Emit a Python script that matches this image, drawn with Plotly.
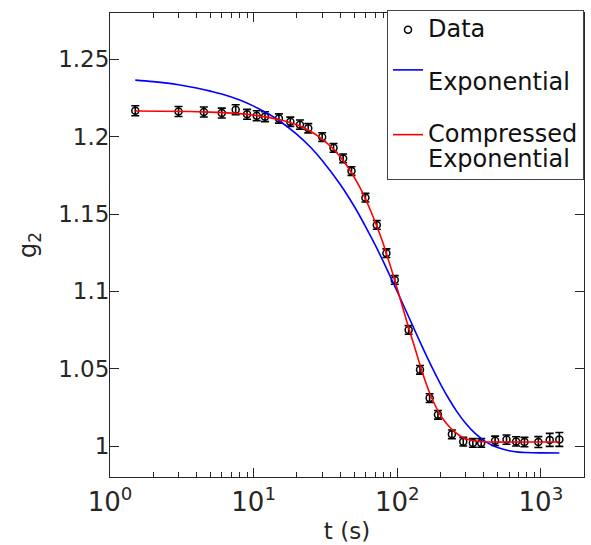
import plotly.graph_objects as go

# ---------------- data ----------------
t_data = [1.5, 3, 4.5, 6, 7.5, 9, 10.5, 12,
          15, 18, 21, 24,
          30, 36, 42, 48,
          60, 72, 84, 96,
          120, 144, 168, 192,
          240, 288, 336, 384,
          480, 576, 672, 768,
          960, 1152, 1344]
g2_data = [1.2168, 1.2163, 1.2160, 1.2153, 1.2175, 1.2145, 1.2136, 1.2130,
           1.2118, 1.2097, 1.2078, 1.2055,
           1.1998, 1.1928, 1.1860, 1.1778,
           1.1606, 1.1430, 1.1247, 1.1074,
           1.0751, 1.0493, 1.0310, 1.0202,
           1.0076, 1.0028, 1.0020, 1.0020,
           1.0034, 1.0042, 1.0030, 1.0026,
           1.0026, 1.0040, 1.0043]
g2_err = [0.0032, 0.0032, 0.0032, 0.0032, 0.0032, 0.0032, 0.0032, 0.0032,
          0.0030, 0.0030, 0.0030, 0.0030,
          0.0028, 0.0028, 0.0028, 0.0028,
          0.0028, 0.0028, 0.0028, 0.0028,
          0.0028, 0.0028, 0.0028, 0.0028,
          0.0028, 0.0028, 0.0028, 0.0028,
          0.0030, 0.0030, 0.0030, 0.0030,
          0.0035, 0.0042, 0.0045]

# exponential fit curve (blue)
t_exp = [1.5, 2, 3, 4, 5, 6, 8, 10, 12, 15, 20, 25, 30, 40, 50, 60, 70, 80,
         90, 100, 120, 140, 160, 180, 200, 230, 260, 300, 350, 400, 450, 500,
         600, 700, 800, 1000, 1344]
g2_exp = [1.2366, 1.2356, 1.2336, 1.2315, 1.2295, 1.2276, 1.2237, 1.2198,
          1.2160, 1.2105, 1.2015, 1.1930, 1.1847, 1.1693, 1.1552, 1.1421,
          1.1302, 1.1192, 1.1091, 1.0999, 1.0836, 1.0698, 1.0582, 1.0484,
          1.0401, 1.0301, 1.0223, 1.0146, 1.0080, 1.0037, 1.0008, 0.9990,
          0.9970, 0.9961, 0.9958, 0.9956, 0.9955]

# compressed exponential fit curve (red)
t_cexp = [1.5, 5, 10, 15, 20, 25, 30, 36, 42, 48, 54, 60, 66, 72, 78, 84,
          90, 96, 104, 112, 120, 132, 144, 156, 168, 180, 192, 210, 232,
          255, 280, 310, 350, 400, 470, 600, 800, 1050, 1344]
g2_cexp = [1.2166, 1.2159, 1.2140, 1.2112, 1.2077, 1.2034, 1.1985, 1.1919,
           1.1846, 1.1767, 1.1685, 1.1598, 1.1510, 1.1421, 1.1335, 1.1245,
           1.1157, 1.1072, 1.0962, 1.0860, 1.0765, 1.0640, 1.0525, 1.0425,
           1.0343, 1.0280, 1.0228, 1.0170, 1.0122, 1.0087, 1.0060, 1.0043,
           1.0033, 1.0028, 1.0026, 1.0026, 1.0026, 1.0026, 1.0026]

x_tickvals = [1, 10, 100, 1000]
x_ticktext = ["10<sup>0</sup>", "10<sup>1</sup>", "10<sup>2</sup>", "10<sup>3</sup>"]
y_tickvals = [1.0, 1.05, 1.1, 1.15, 1.2, 1.25]
y_ticktext = ["1", "1.05", "1.1", "1.15", "1.2", "1.25"]

names = ["Data", "Exponential", "Compressed<br>Exponential"]

# ---------------- figure ----------------
FONT = "DejaVu Sans, Liberation Sans, Arial, sans-serif"
AX = "#262626"


def big(s):
    return "<br>".join('<span style="font-size:24px">%s</span>' % p for p in s.split("<br>"))


fig = go.Figure()
fig.add_trace(go.Scatter(
    x=t_data, y=g2_data, mode="markers", name=big(names[0]),
    marker=dict(symbol="circle-open", size=7, color="black", line=dict(width=1.5, color="black")),
    error_y=dict(type="data", array=g2_err, visible=True, color="black", thickness=1.6, width=4),
))
fig.add_trace(go.Scatter(
    x=t_exp, y=g2_exp, mode="lines", name="\u00a0<br>" + big(names[1]),
    line=dict(color="#0000ff", width=1.6, shape="spline"),
))
fig.add_trace(go.Scatter(
    x=t_cexp, y=g2_cexp, mode="lines", name="\u00a0<br>" + big(names[2]),
    line=dict(color="#ff0000", width=1.6, shape="spline"),
))

fig.update_layout(
    width=591, height=545,
    margin=dict(l=110, r=7, t=13, b=68, autoexpand=False),
    paper_bgcolor="white", plot_bgcolor="white",
    font=dict(family=FONT, color=AX),
    showlegend=True,
    legend=dict(
        x=1, y=1.0065, xanchor="right", yanchor="top",
        bgcolor="white", bordercolor="#444444", borderwidth=1,
        font=dict(family=FONT, size=19, color="#111111"),
        valign="middle", tracegroupgap=0,
    ),
)
fig.update_xaxes(
    type="log", range=[0, 3.3], automargin=False,
    tickvals=x_tickvals, ticktext=x_ticktext,
    tickfont=dict(size=26, color=AX, family=FONT),
    ticks="inside", ticklen=9, tickwidth=1, tickcolor=AX,
    minor=dict(ticks="inside", ticklen=5, tickwidth=1, tickcolor=AX, dtick="D1", showgrid=False),
    showline=True, linecolor=AX, linewidth=1, mirror="ticks",
    showgrid=False, zeroline=False,
    title=dict(text="t (s)", font=dict(size=23, color=AX, family=FONT), standoff=6),
    ticklabelstandoff=2,
)
fig.update_yaxes(
    range=[0.98, 1.28], automargin=False,
    tickvals=y_tickvals, ticktext=y_ticktext,
    tickfont=dict(size=23, color=AX, family=FONT),
    ticks="inside", ticklen=9, tickwidth=1, tickcolor=AX,
    showline=True, linecolor=AX, linewidth=1, mirror="ticks",
    showgrid=False, zeroline=False,
    title=dict(text="g<sub>2</sub>", font=dict(size=24, color=AX, family=FONT), standoff=14),
    ticklabelstandoff=-5,
)

fig.write_html("out.html", config={"displayModeBar": False},
               post_script="document.body.style.margin='0px';")
